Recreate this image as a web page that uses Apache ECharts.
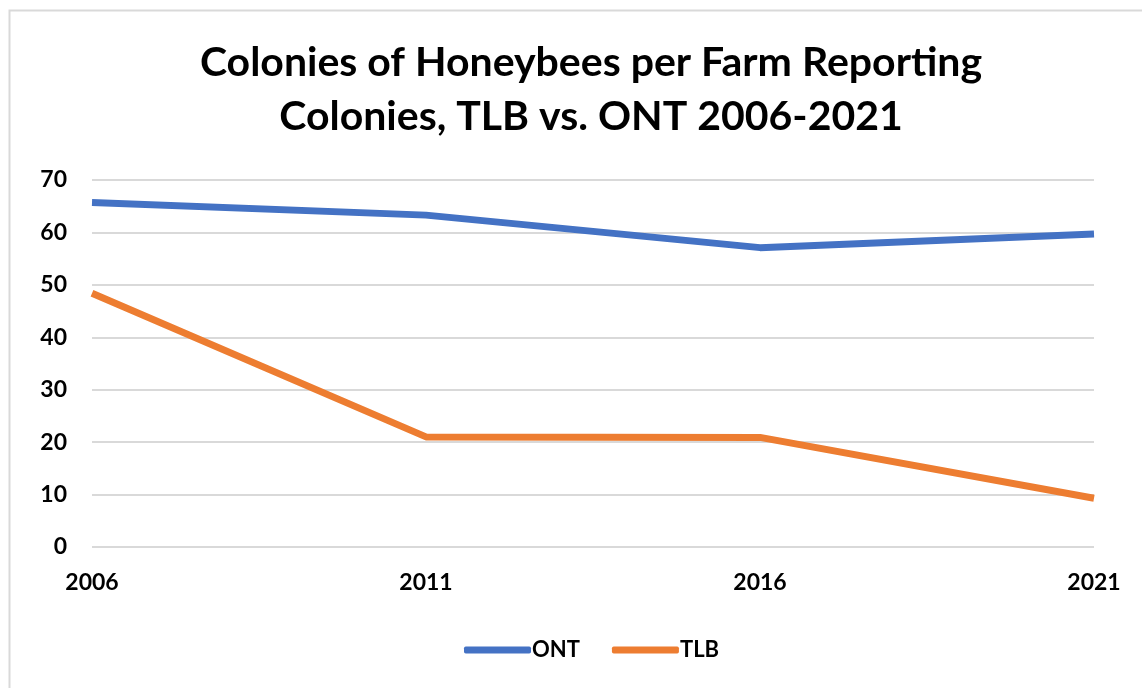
<!DOCTYPE html>
<html><head><meta charset="utf-8">
<script src="https://cdn.jsdelivr.net/npm/echarts@6/dist/echarts.min.js"></script>
<style>html,body{margin:0;padding:0;background:#fff}#c{width:1142px;height:688px}</style>
</head><body><div id="c"></div>
<script>
const categories = ['2006', '2011', '2016', '2021'];
const ontValues = [65.7, 63.3, 57.1, 59.7];
const tlbValues = [48.4, 21.0, 20.9, 9.3];
const yTicks = [0, 10, 20, 30, 40, 50, 60, 70];
const titleText = 'Colonies of Honeybees per Farm Reporting\nColonies, TLB vs. ONT 2006-2021';

const chart = echarts.init(document.getElementById('c'));
const FONT = 'Lato';
chart.setOption({
  animation: false,
  backgroundColor: '#fff',
  graphic: [{
    type: 'rect', left: 7, top: 8, shape: { width: 1160, height: 700 },
    style: { fill: 'none', stroke: '#d9d9d9', lineWidth: 2 }, silent: true, z: -1
  }],
  title: {
    text: titleText, left: 586, top: 31, textAlign: 'center',
    textStyle: { fontFamily: FONT, fontWeight: 'bold', fontSize: 41, color: '#000', lineHeight: 54 }
  },
  legend: {
    data: [
      { name: 'ONT', icon: 'roundRect' },
      { name: 'TLB', icon: 'roundRect' }
    ],
    left: 459, top: 634, itemWidth: 67, itemHeight: 7, itemGap: 32,
    textStyle: { fontFamily: FONT, fontWeight: 'bold', fontSize: 22, color: '#000', padding: [0, 0, 0, -4] }
  },
  grid: { left: 92, right: 48, top: 180, bottom: 141, containLabel: false },
  xAxis: {
    type: 'category', data: categories, boundaryGap: false,
    axisLine: { show: false }, axisTick: { show: false },
    axisLabel: { fontFamily: FONT, fontWeight: 'bold', fontSize: 23, color: '#000', margin: 24 }
  },
  yAxis: {
    type: 'value', min: yTicks[0], max: yTicks[yTicks.length - 1], interval: 10,
    axisLine: { show: false }, axisTick: { show: false },
    axisLabel: { fontFamily: FONT, fontWeight: 'bold', fontSize: 23, color: '#000', margin: 25 },
    splitLine: { lineStyle: { color: '#d9d9d9', width: 2 } }
  },
  series: [
    { name: 'ONT', type: 'line', data: ontValues, showSymbol: false, symbol: 'none',
      lineStyle: { color: '#4472C4', width: 7 }, itemStyle: { color: '#4472C4' } },
    { name: 'TLB', type: 'line', data: tlbValues, showSymbol: false, symbol: 'none',
      lineStyle: { color: '#ED7D31', width: 7 }, itemStyle: { color: '#ED7D31' } }
  ]
});
</script></body></html>
